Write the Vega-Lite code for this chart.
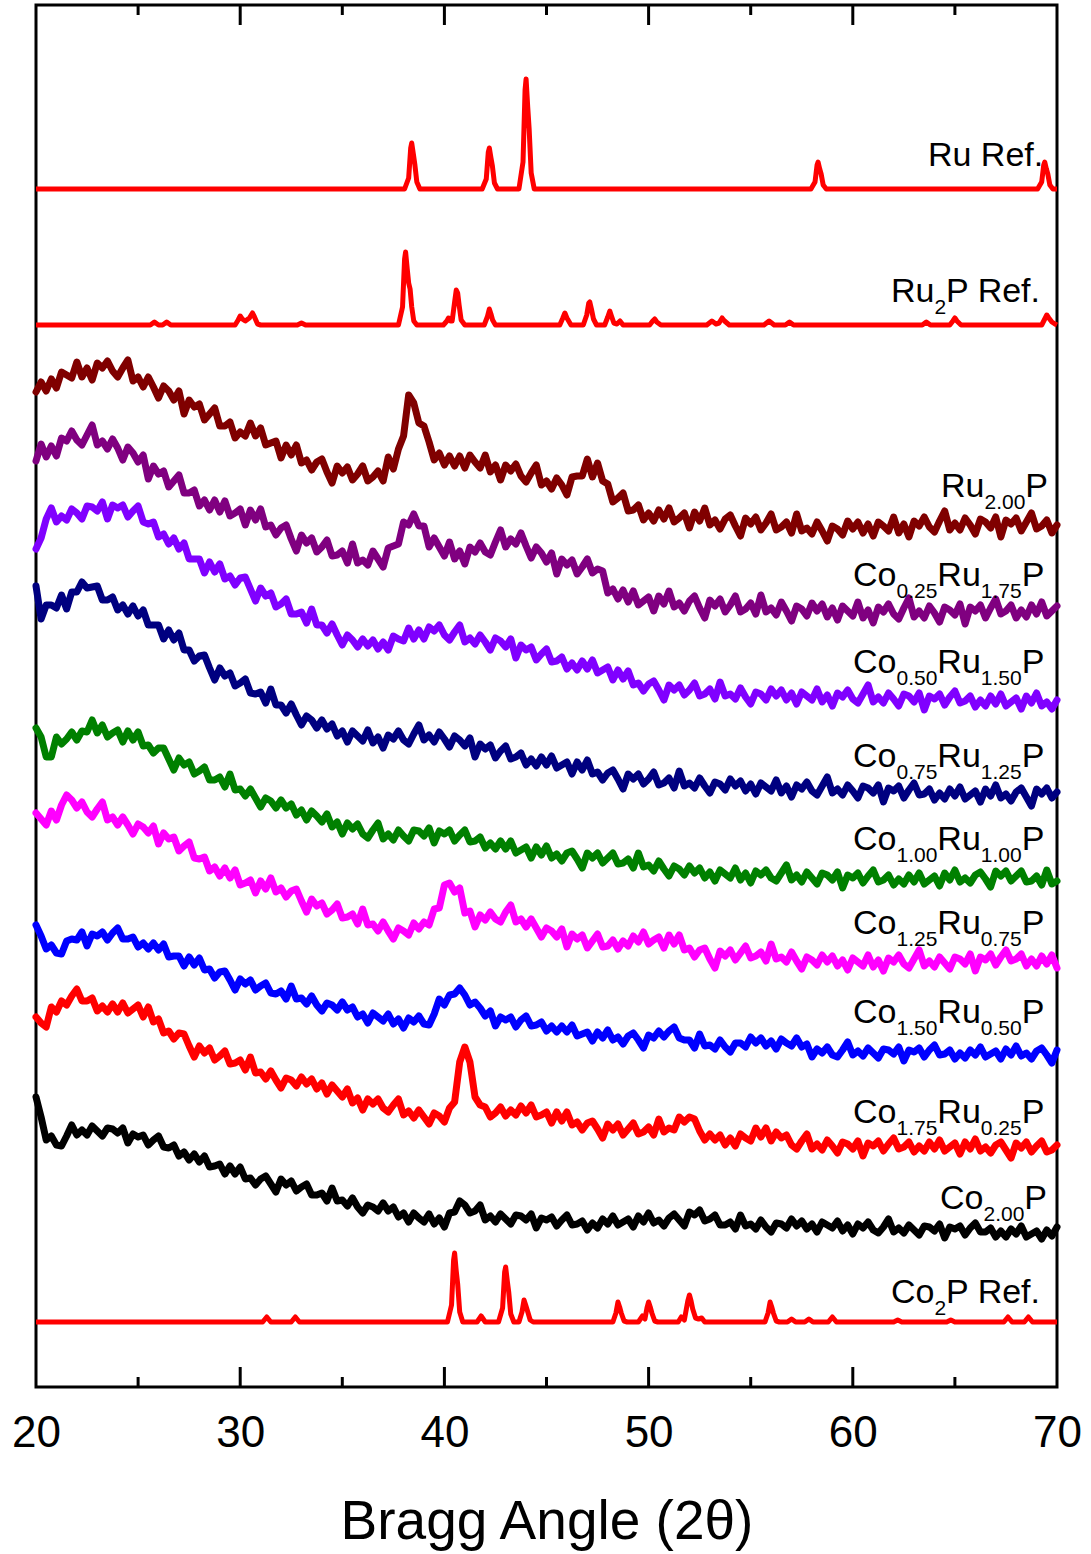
{
"$schema":"https://vega.github.io/schema/vega-lite/v6.json",
"width":1021,"height":1382,
"autosize":{"type":"none"},
"padding":{"left":36,"top":5,"right":34,"bottom":167},
"background":"white",
"config":{"view":{"stroke":"black","strokeWidth":3},"font":"Liberation Sans"},
"datasets":{
"scans":[
{"x":20,"a":995,"b":926,"c":838,"d":801,"e":659,"f":574,"g":462,"h":370,"i":290},
{"x":20.25,"a":1005,"b":943,"c":849,"d":768,"e":650,"f":568,"g":451,"h":364,"i":270},
{"x":20.5,"a":996,"b":930,"c":868,"d":782,"e":630,"f":562,"g":438,"h":360,"i":247},
{"x":20.75,"a":1008,"b":941,"c":879,"d":782,"e":630,"f":576,"g":442,"h":380,"i":251},
{"x":21,"a":999,"b":931,"c":865,"d":779,"e":650,"f":567,"g":434,"h":375,"i":242},
{"x":21.25,"a":1015,"b":949,"c":871,"d":792,"e":643,"f":582,"g":433,"h":386,"i":241},
{"x":21.5,"a":1012,"b":946,"c":867,"d":778,"e":648,"f":592,"g":446,"h":382,"i":251},
{"x":21.75,"a":1009,"b":956,"c":878,"d":795,"e":655,"f":587,"g":448,"h":391,"i":262},
{"x":22,"a":1025,"b":947,"c":874,"d":795,"e":647,"f":579,"g":447,"h":398,"i":252},
{"x":22.25,"a":1010,"b":942,"c":868,"d":805,"e":656,"f":585,"g":455,"h":386,"i":257},
{"x":22.5,"a":1019,"b":952,"c":881,"d":799,"e":655,"f":575,"g":441,"h":386,"i":252},
{"x":22.75,"a":1007,"b":962,"c":880,"d":800,"e":667,"f":570,"g":453,"h":389,"i":261},
{"x":23,"a":1024,"b":942,"c":876,"d":801,"e":654,"f":578,"g":451,"h":376,"i":256},
{"x":23.25,"a":1019,"b":946,"c":885,"d":787,"e":662,"f":585,"g":455,"h":381,"i":251},
{"x":23.5,"a":1026,"b":938,"c":868,"d":787,"e":650,"f":567,"g":447,"h":375,"i":259},
{"x":23.75,"a":1016,"b":948,"c":882,"d":790,"e":654,"f":570,"g":454,"h":383,"i":258},
{"x":24,"a":1010,"b":939,"c":879,"d":777,"e":657,"f":562,"g":459,"h":375,"i":254},
{"x":24.25,"a":1019,"b":927,"c":882,"d":782,"e":645,"f":570,"g":448,"h":384,"i":259},
{"x":24.5,"a":1027,"b":940,"c":870,"d":773,"e":656,"f":562,"g":448,"h":374,"i":244},
{"x":24.75,"a":1006,"b":934,"c":876,"d":781,"e":647,"f":553,"g":450,"h":378,"i":253},
{"x":25,"a":1010,"b":925,"c":881,"d":771,"e":655,"f":563,"g":440,"h":382,"i":250},
{"x":25.25,"a":1000,"b":932,"c":865,"d":777,"e":641,"f":560,"g":444,"h":370,"i":252},
{"x":25.5,"a":1010,"b":908,"c":863,"d":762,"e":642,"f":554,"g":438,"h":380,"i":242},
{"x":25.75,"a":1000,"b":921,"c":865,"d":762,"e":634,"f":561,"g":444,"h":365,"i":247},
{"x":26,"a":989,"b":913,"c":850,"d":762,"e":639,"f":543,"g":437,"h":368,"i":251},
{"x":26.25,"a":1001,"b":916,"c":853,"d":748,"e":639,"f":554,"g":443,"h":354,"i":240},
{"x":26.5,"a":996,"b":900,"c":843,"d":757,"e":628,"f":548,"g":430,"h":356,"i":239},
{"x":26.75,"a":987,"b":906,"c":849,"d":747,"e":617,"f":550,"g":431,"h":348,"i":242},
{"x":27,"a":996,"b":912,"c":838,"d":754,"e":629,"f":536,"g":431,"h":354,"i":231},
{"x":27.25,"a":973,"b":894,"c":844,"d":737,"e":622,"f":541,"g":421,"h":353,"i":235},
{"x":27.5,"a":987,"b":894,"c":828,"d":737,"e":625,"f":545,"g":430,"h":341,"i":227},
{"x":27.75,"a":980,"b":897,"c":828,"d":726,"e":613,"f":529,"g":422,"h":330,"i":233},
{"x":28,"a":983,"b":881,"c":828,"d":731,"e":616,"f":528,"g":429,"h":341,"i":225},
{"x":28.25,"a":967,"b":887,"c":814,"d":732,"e":620,"f":530,"g":417,"h":334,"i":231},
{"x":28.5,"a":973,"b":877,"c":825,"d":719,"e":607,"f":516,"g":418,"h":339,"i":220},
{"x":28.75,"a":979,"b":887,"c":815,"d":707,"e":607,"f":520,"g":409,"h":327,"i":221},
{"x":29,"a":961,"b":875,"c":823,"d":719,"e":610,"f":511,"g":415,"h":331,"i":223},
{"x":29.25,"a":961,"b":886,"c":808,"d":711,"e":600,"f":519,"g":416,"h":336,"i":213},
{"x":29.5,"a":965,"b":871,"c":811,"d":714,"e":613,"f":509,"g":407,"h":323,"i":221},
{"x":29.75,"a":949,"b":874,"c":802,"d":701,"e":597,"f":517,"g":397,"h":324,"i":213},
{"x":30,"a":955,"b":878,"c":809,"d":704,"e":598,"f":502,"g":408,"h":327,"i":220},
{"x":30.25,"a":951,"b":862,"c":810,"d":708,"e":591,"f":504,"g":403,"h":317,"i":208},
{"x":30.5,"a":964,"b":877,"c":798,"d":694,"e":598,"f":507,"g":407,"h":330,"i":209},
{"x":30.75,"a":951,"b":867,"c":786,"d":693,"e":589,"f":494,"g":397,"h":314,"i":202},
{"x":31,"a":959,"b":878,"c":799,"d":695,"e":580,"f":506,"g":401,"h":315,"i":208},
{"x":31.25,"a":942,"b":860,"c":791,"d":684,"e":589,"f":498,"g":404,"h":308,"i":211},
{"x":31.5,"a":944,"b":862,"c":794,"d":698,"e":586,"f":509,"g":394,"h":316,"i":203},
{"x":31.75,"a":946,"b":852,"c":780,"d":682,"e":579,"f":495,"g":393,"h":307,"i":195},
{"x":32,"a":929,"b":859,"c":783,"d":682,"e":587,"f":499,"g":396,"h":299,"i":208},
{"x":32.25,"a":942,"b":862,"c":788,"d":674,"e":579,"f":490,"g":388,"h":309,"i":202},
{"x":32.5,"a":932,"b":848,"c":773,"d":683,"e":583,"f":496,"g":401,"h":307,"i":206},
{"x":32.75,"a":942,"b":836,"c":773,"d":672,"e":572,"f":498,"g":388,"h":301,"i":196},
{"x":33,"a":924,"b":852,"c":775,"d":662,"e":577,"f":486,"g":389,"h":310,"i":200},
{"x":33.25,"a":927,"b":844,"c":764,"d":671,"e":567,"f":475,"g":383,"h":303,"i":203},
{"x":33.5,"a":917,"b":849,"c":778,"d":667,"e":576,"f":488,"g":391,"h":308,"i":192},
{"x":33.75,"a":925,"b":835,"c":762,"d":659,"e":571,"f":481,"g":382,"h":298,"i":192},
{"x":34,"a":928,"b":840,"c":762,"d":667,"e":565,"f":484,"g":376,"h":304,"i":194},
{"x":34.25,"a":915,"b":847,"c":754,"d":658,"e":573,"f":473,"g":384,"h":293,"i":186},
{"x":34.5,"a":904,"b":831,"c":763,"d":663,"e":560,"f":477,"g":382,"h":302,"i":199},
{"x":34.75,"a":921,"b":832,"c":752,"d":651,"e":565,"f":483,"g":377,"h":296,"i":186},
{"x":35,"a":914,"b":836,"c":742,"d":656,"e":553,"f":469,"g":385,"h":290,"i":187},
{"x":35.25,"a":920,"b":824,"c":752,"d":645,"e":564,"f":470,"g":377,"h":298,"i":181},
{"x":35.5,"a":907,"b":843,"c":747,"d":656,"e":558,"f":473,"g":380,"h":284,"i":189},
{"x":35.75,"a":913,"b":824,"c":740,"d":651,"e":563,"f":463,"g":370,"h":289,"i":180},
{"x":36,"a":921,"b":827,"c":748,"d":646,"e":553,"f":478,"g":373,"h":277,"i":174},
{"x":36.25,"a":906,"b":822,"c":741,"d":657,"e":549,"f":462,"g":364,"h":288,"i":182},
{"x":36.5,"a":910,"b":836,"c":747,"d":644,"e":557,"f":463,"g":374,"h":283,"i":180},
{"x":36.75,"a":916,"b":828,"c":738,"d":650,"e":564,"f":456,"g":370,"h":288,"i":176},
{"x":37,"a":906,"b":820,"c":745,"d":639,"e":548,"f":465,"g":366,"h":279,"i":184},
{"x":37.25,"a":930,"b":839,"c":737,"d":652,"e":553,"f":456,"g":373,"h":275,"i":176},
{"x":37.5,"a":918,"b":841,"c":751,"d":648,"e":547,"f":448,"g":363,"h":282,"i":180},
{"x":37.75,"a":938,"b":843,"c":748,"d":656,"e":557,"f":459,"g":368,"h":288,"i":170},
{"x":38,"a":951,"b":865,"c":746,"d":647,"e":551,"f":456,"g":359,"h":272,"i":174},
{"x":38.25,"a":992,"b":862,"c":759,"d":643,"e":546,"f":452,"g":369,"h":276,"i":165},
{"x":38.5,"a":984,"b":873,"c":748,"d":653,"e":557,"f":464,"g":365,"h":269,"i":174},
{"x":38.75,"a":964,"b":861,"c":757,"d":662,"e":556,"f":458,"g":371,"h":277,"i":169},
{"x":39,"a":961,"b":861,"c":748,"d":647,"e":551,"f":465,"g":363,"h":270,"i":165},
{"x":39.25,"a":945,"b":840,"c":760,"d":652,"e":559,"f":462,"g":362,"h":263,"i":173},
{"x":39.5,"a":927,"b":849,"c":756,"d":645,"e":544,"f":478,"g":373,"h":274,"i":163},
{"x":39.75,"a":934,"b":840,"c":762,"d":655,"e":556,"f":479,"g":388,"h":271,"i":169},
{"x":40,"a":922,"b":831,"c":752,"d":648,"e":553,"f":502,"g":382,"h":265,"i":160},
{"x":40.25,"a":931,"b":845,"c":747,"d":640,"e":557,"f":504,"g":392,"h":279,"i":174},
{"x":40.5,"a":921,"b":828,"c":755,"d":651,"e":546,"f":495,"g":393,"h":285,"i":175},
{"x":40.75,"a":931,"b":836,"c":762,"d":647,"e":552,"f":499,"g":399,"h":325,"i":186},
{"x":41,"a":919,"b":823,"c":745,"d":641,"e":557,"f":474,"g":392,"h":340,"i":182},
{"x":41.25,"a":932,"b":840,"c":749,"d":649,"e":545,"f":476,"g":382,"h":325,"i":174},
{"x":41.5,"a":925,"b":835,"c":743,"d":630,"e":546,"f":460,"g":385,"h":290,"i":176},
{"x":41.75,"a":919,"b":844,"c":752,"d":643,"e":550,"f":472,"g":379,"h":282,"i":182},
{"x":42,"a":932,"b":835,"c":745,"d":638,"e":539,"f":467,"g":371,"h":280,"i":167},
{"x":42.25,"a":915,"b":832,"c":737,"d":642,"e":544,"f":475,"g":376,"h":270,"i":171},
{"x":42.5,"a":922,"b":845,"c":749,"d":629,"e":538,"f":468,"g":361,"h":274,"i":165},
{"x":42.75,"a":907,"b":857,"c":746,"d":636,"e":546,"f":465,"g":370,"h":280,"i":173},
{"x":43,"a":922,"b":840,"c":740,"d":641,"e":538,"f":475,"g":367,"h":271,"i":168},
{"x":43.25,"a":916,"b":848,"c":748,"d":628,"e":546,"f":482,"g":370,"h":277,"i":163},
{"x":43.5,"a":923,"b":843,"c":729,"d":630,"e":534,"f":465,"g":360,"h":272,"i":172},
{"x":43.75,"a":911,"b":854,"c":742,"d":634,"e":537,"f":468,"g":367,"h":281,"i":171},
{"x":44,"a":905,"b":841,"c":737,"d":622,"e":540,"f":460,"g":371,"h":274,"i":167},
{"x":44.25,"a":914,"b":829,"c":740,"d":628,"e":529,"f":468,"g":361,"h":282,"i":173},
{"x":44.5,"a":922,"b":840,"c":727,"d":621,"e":540,"f":459,"g":362,"h":270,"i":159},
{"x":44.75,"a":902,"b":834,"c":733,"d":630,"e":532,"f":450,"g":365,"h":272,"i":169},
{"x":45,"a":906,"b":825,"c":738,"d":622,"e":541,"f":459,"g":356,"h":275,"i":167},
{"x":45.25,"a":898,"b":834,"c":725,"d":631,"e":529,"f":456,"g":361,"h":264,"i":170},
{"x":45.5,"a":909,"b":813,"c":726,"d":619,"e":533,"f":450,"g":355,"h":275,"i":161},
{"x":45.75,"a":902,"b":828,"c":730,"d":622,"e":526,"f":458,"g":361,"h":266,"i":167},
{"x":46,"a":892,"b":822,"c":718,"d":625,"e":534,"f":440,"g":355,"h":275,"i":172},
{"x":46.25,"a":910,"b":827,"c":724,"d":613,"e":536,"f":453,"g":362,"h":262,"i":162},
{"x":46.5,"a":911,"b":813,"c":717,"d":625,"e":528,"f":448,"g":351,"h":265,"i":163},
{"x":46.75,"a":911,"b":820,"c":726,"d":617,"e":519,"f":452,"g":353,"h":257,"i":166},
{"x":47,"a":928,"b":828,"c":718,"d":627,"e":534,"f":439,"g":355,"h":264,"i":157},
{"x":47.25,"a":910,"b":814,"c":727,"d":613,"e":529,"f":446,"g":346,"h":266,"i":164},
{"x":47.5,"a":924,"b":818,"c":714,"d":615,"e":534,"f":453,"g":355,"h":258,"i":159},
{"x":47.75,"a":906,"b":816,"c":717,"d":607,"e":524,"f":440,"g":349,"h":249,"i":168},
{"x":48,"a":903,"b":794,"c":720,"d":614,"e":529,"f":441,"g":357,"h":263,"i":163},
{"x":48.25,"a":885,"b":798,"c":707,"d":617,"e":534,"f":447,"g":347,"h":257,"i":171},
{"x":48.5,"a":889,"b":788,"c":717,"d":608,"e":523,"f":438,"g":350,"h":263,"i":162},
{"x":48.75,"a":894,"b":797,"c":708,"d":598,"e":524,"f":446,"g":343,"h":252,"i":165},
{"x":49,"a":876,"b":785,"c":716,"d":613,"e":528,"f":441,"g":351,"h":258,"i":168},
{"x":49.25,"a":877,"b":796,"c":702,"d":608,"e":519,"f":451,"g":354,"h":264,"i":160},
{"x":49.5,"a":882,"b":782,"c":704,"d":613,"e":534,"f":445,"g":347,"h":253,"i":171},
{"x":49.75,"a":867,"b":786,"c":696,"d":603,"e":520,"f":455,"g":339,"h":255,"i":165},
{"x":50,"a":874,"b":790,"c":703,"d":608,"e":522,"f":443,"g":352,"h":260,"i":174},
{"x":50.25,"a":866,"b":776,"c":706,"d":615,"e":516,"f":447,"g":349,"h":252,"i":164},
{"x":50.5,"a":877,"b":791,"c":697,"d":602,"e":526,"f":450,"g":356,"h":268,"i":167},
{"x":50.75,"a":868,"b":783,"c":687,"d":604,"e":518,"f":439,"g":350,"h":255,"i":161},
{"x":51,"a":879,"b":796,"c":702,"d":609,"e":511,"f":452,"g":356,"h":259,"i":169},
{"x":51.25,"a":865,"b":780,"c":697,"d":599,"e":521,"f":443,"g":360,"h":257,"i":173},
{"x":51.5,"a":869,"b":784,"c":702,"d":616,"e":518,"f":452,"g":349,"h":270,"i":167},
{"x":51.75,"a":874,"b":776,"c":692,"d":601,"e":512,"f":437,"g":347,"h":265,"i":161},
{"x":52,"a":859,"b":786,"c":697,"d":604,"e":521,"f":439,"g":347,"h":270,"i":175},
{"x":52.25,"a":875,"b":791,"c":704,"d":599,"e":514,"f":430,"g":339,"h":268,"i":172},
{"x":52.5,"a":866,"b":779,"c":691,"d":609,"e":519,"f":437,"g":353,"h":256,"i":177},
{"x":52.75,"a":879,"b":769,"c":693,"d":601,"e":509,"f":439,"g":341,"h":247,"i":166},
{"x":53,"a":862,"b":787,"c":698,"d":594,"e":515,"f":428,"g":342,"h":253,"i":168},
{"x":53.25,"a":867,"b":781,"c":688,"d":605,"e":506,"f":419,"g":338,"h":247,"i":172},
{"x":53.5,"a":858,"b":788,"c":705,"d":603,"e":517,"f":436,"g":347,"h":252,"i":162},
{"x":53.75,"a":868,"b":775,"c":691,"d":597,"e":513,"f":431,"g":340,"h":242,"i":162},
{"x":54,"a":872,"b":782,"c":693,"d":608,"e":509,"f":437,"g":335,"h":249,"i":165},
{"x":54.25,"a":861,"b":791,"c":688,"d":601,"e":519,"f":427,"g":344,"h":241,"i":158},
{"x":54.5,"a":851,"b":775,"c":699,"d":606,"e":507,"f":434,"g":344,"h":253,"i":172},
{"x":54.75,"a":869,"b":778,"c":690,"d":596,"e":514,"f":441,"g":340,"h":249,"i":161},
{"x":55,"a":863,"b":784,"c":683,"d":603,"e":504,"f":429,"g":350,"h":246,"i":163},
{"x":55.25,"a":870,"b":773,"c":695,"d":593,"e":516,"f":431,"g":344,"h":259,"i":158},
{"x":55.5,"a":857,"b":792,"c":693,"d":604,"e":512,"f":435,"g":349,"h":250,"i":167},
{"x":55.75,"a":864,"b":775,"c":687,"d":600,"e":517,"f":426,"g":341,"h":259,"i":160},
{"x":56,"a":873,"b":779,"c":698,"d":596,"e":509,"f":443,"g":346,"h":246,"i":155},
{"x":56.25,"a":857,"b":772,"c":691,"d":607,"e":506,"f":428,"g":338,"h":255,"i":164},
{"x":56.5,"a":860,"b":785,"c":697,"d":594,"e":514,"f":430,"g":348,"h":249,"i":163},
{"x":56.75,"a":865,"b":776,"c":687,"d":601,"e":522,"f":425,"g":344,"h":252,"i":159},
{"x":57,"a":854,"b":766,"c":694,"d":590,"e":507,"f":435,"g":341,"h":242,"i":168},
{"x":57.25,"a":873,"b":781,"c":683,"d":602,"e":512,"f":426,"g":349,"h":238,"i":161},
{"x":57.5,"a":856,"b":778,"c":695,"d":598,"e":505,"f":418,"g":340,"h":246,"i":166},
{"x":57.75,"a":859,"b":771,"c":691,"d":605,"e":515,"f":430,"g":343,"h":253,"i":158},
{"x":58,"a":853,"b":784,"c":687,"d":596,"e":509,"f":427,"g":330,"h":238,"i":163},
{"x":58.25,"a":865,"b":776,"c":698,"d":592,"e":503,"f":422,"g":338,"h":243,"i":155},
{"x":58.5,"a":856,"b":783,"c":685,"d":601,"e":514,"f":432,"g":334,"h":237,"i":165},
{"x":58.75,"a":846,"b":770,"c":692,"d":610,"e":512,"f":425,"g":340,"h":247,"i":162},
{"x":59,"a":861,"b":779,"c":681,"d":594,"e":507,"f":431,"g":332,"h":241,"i":159},
{"x":59.25,"a":858,"b":767,"c":694,"d":598,"e":515,"f":421,"g":330,"h":234,"i":166},
{"x":59.5,"a":852,"b":781,"c":690,"d":592,"e":499,"f":427,"g":337,"h":245,"i":156},
{"x":59.75,"a":866,"b":776,"c":697,"d":602,"e":512,"f":417,"g":345,"h":243,"i":162},
{"x":60,"a":858,"b":771,"c":688,"d":596,"e":509,"f":429,"g":332,"h":238,"i":153},
{"x":60.25,"a":865,"b":785,"c":684,"d":589,"e":514,"f":425,"g":336,"h":246,"i":163},
{"x":60.5,"a":854,"b":769,"c":693,"d":601,"e":504,"f":421,"g":331,"h":231,"i":159},
{"x":60.75,"a":863,"b":777,"c":702,"d":599,"e":511,"f":432,"g":339,"h":244,"i":165},
{"x":61,"a":851,"b":764,"c":685,"d":594,"e":517,"f":420,"g":334,"h":241,"i":157},
{"x":61.25,"a":865,"b":780,"c":690,"d":602,"e":505,"f":427,"g":329,"h":246,"i":154},
{"x":61.5,"a":861,"b":775,"c":684,"d":585,"e":507,"f":416,"g":338,"h":236,"i":160},
{"x":61.75,"a":856,"b":783,"c":694,"d":599,"e":512,"f":429,"g":337,"h":243,"i":168},
{"x":62,"a":870,"b":773,"c":688,"d":596,"e":502,"f":425,"g":333,"h":249,"i":155},
{"x":62.25,"a":854,"b":768,"c":681,"d":601,"e":508,"f":432,"g":340,"h":238,"i":159},
{"x":62.5,"a":863,"b":779,"c":693,"d":589,"e":503,"f":423,"g":326,"h":240,"i":154},
{"x":62.75,"a":850,"b":789,"c":691,"d":597,"e":512,"f":419,"g":337,"h":245,"i":162},
{"x":63,"a":866,"b":770,"c":685,"d":604,"e":505,"f":428,"g":335,"h":235,"i":157},
{"x":63.25,"a":861,"b":776,"c":694,"d":592,"e":514,"f":437,"g":339,"h":241,"i":152},
{"x":63.5,"a":870,"b":769,"c":677,"d":593,"e":503,"f":421,"g":330,"h":236,"i":161},
{"x":63.75,"a":860,"b":781,"c":691,"d":598,"e":507,"f":426,"g":337,"h":245,"i":160},
{"x":64,"a":855,"b":774,"c":688,"d":587,"e":511,"f":420,"g":342,"h":238,"i":156},
{"x":64.25,"a":866,"b":765,"c":693,"d":594,"e":501,"f":430,"g":332,"h":247,"i":163},
{"x":64.5,"a":876,"b":780,"c":682,"d":588,"e":514,"f":424,"g":333,"h":236,"i":149},
{"x":64.75,"a":857,"b":777,"c":690,"d":598,"e":507,"f":418,"g":337,"h":240,"i":160},
{"x":65,"a":864,"b":772,"c":696,"d":591,"e":517,"f":430,"g":328,"h":244,"i":158},
{"x":65.25,"a":857,"b":783,"c":684,"d":600,"e":505,"f":428,"g":334,"h":233,"i":161},
{"x":65.5,"a":869,"b":763,"c":686,"d":588,"e":509,"f":423,"g":329,"h":245,"i":152},
{"x":65.75,"a":862,"b":780,"c":691,"d":592,"e":504,"f":433,"g":337,"h":238,"i":159},
{"x":66,"a":853,"b":776,"c":680,"d":596,"e":512,"f":416,"g":332,"h":248,"i":164},
{"x":66.25,"a":868,"b":782,"c":687,"d":585,"e":515,"f":430,"g":340,"h":236,"i":155},
{"x":66.5,"a":865,"b":769,"c":681,"d":598,"e":508,"f":427,"g":330,"h":240,"i":155},
{"x":66.75,"a":859,"b":779,"c":691,"d":591,"e":500,"f":433,"g":333,"h":234,"i":159},
{"x":67,"a":870,"b":788,"c":683,"d":602,"e":516,"f":422,"g":336,"h":242,"i":150},
{"x":67.25,"a":850,"b":773,"c":693,"d":589,"e":511,"f":430,"g":328,"h":245,"i":156},
{"x":67.5,"a":867,"b":776,"c":681,"d":593,"e":516,"f":437,"g":338,"h":237,"i":150},
{"x":67.75,"a":863,"b":782,"c":685,"d":586,"e":506,"f":426,"g":332,"h":229,"i":158},
{"x":68,"a":869,"b":769,"c":689,"d":595,"e":511,"f":428,"g":341,"h":244,"i":153},
{"x":68.25,"a":856,"b":777,"c":678,"d":599,"e":516,"f":433,"g":331,"h":239,"i":161},
{"x":68.5,"a":865,"b":770,"c":691,"d":590,"e":505,"f":421,"g":334,"h":245,"i":150},
{"x":68.75,"a":874,"b":782,"c":684,"d":581,"e":506,"f":428,"g":328,"h":235,"i":153},
{"x":69,"a":858,"b":773,"c":694,"d":598,"e":511,"f":421,"g":336,"h":241,"i":156},
{"x":69.25,"a":861,"b":785,"c":681,"d":593,"e":502,"f":431,"g":339,"h":246,"i":148},
{"x":69.5,"a":867,"b":771,"c":685,"d":599,"e":517,"f":423,"g":332,"h":235,"i":157},
{"x":69.75,"a":854,"b":776,"c":678,"d":589,"e":503,"f":432,"g":324,"h":237,"i":151},
{"x":70,"a":862,"b":781,"c":687,"d":595,"e":506,"f":419,"g":337,"h":242,"i":160}
],
"refs":[
{"r":"Ru","x":20,"v":1198},{"r":"Ru","x":38.05,"v":1198},{"r":"Ru","x":38.25,"v":1209},{"r":"Ru","x":38.35,"v":1239},{"r":"Ru","x":38.4,"v":1244},{"r":"Ru","x":38.48,"v":1233},{"r":"Ru","x":38.55,"v":1223},{"r":"Ru","x":38.65,"v":1205},{"r":"Ru","x":38.8,"v":1198},
{"r":"Ru","x":41.85,"v":1198},{"r":"Ru","x":42.05,"v":1208},{"r":"Ru","x":42.15,"v":1235},{"r":"Ru","x":42.2,"v":1239},{"r":"Ru","x":42.28,"v":1229},{"r":"Ru","x":42.35,"v":1221},{"r":"Ru","x":42.45,"v":1204},{"r":"Ru","x":42.6,"v":1198},
{"r":"Ru","x":43.65,"v":1198},{"r":"Ru","x":43.85,"v":1225},{"r":"Ru","x":43.95,"v":1297},{"r":"Ru","x":44.0,"v":1308},{"r":"Ru","x":44.08,"v":1280},{"r":"Ru","x":44.15,"v":1258},{"r":"Ru","x":44.25,"v":1214},{"r":"Ru","x":44.4,"v":1198},
{"r":"Ru","x":57.95,"v":1198},{"r":"Ru","x":58.15,"v":1205},{"r":"Ru","x":58.25,"v":1222},{"r":"Ru","x":58.3,"v":1225},{"r":"Ru","x":58.38,"v":1218},{"r":"Ru","x":58.45,"v":1213},{"r":"Ru","x":58.55,"v":1202},{"r":"Ru","x":58.7,"v":1198},
{"r":"Ru","x":69.05,"v":1198},{"r":"Ru","x":69.25,"v":1205},{"r":"Ru","x":69.35,"v":1222},{"r":"Ru","x":69.4,"v":1225},{"r":"Ru","x":69.48,"v":1218},{"r":"Ru","x":69.55,"v":1213},{"r":"Ru","x":69.65,"v":1202},{"r":"Ru","x":69.8,"v":1198},{"r":"Ru","x":70,"v":1198},
{"r":"Ru2P","x":20,"v":1062},{"r":"Ru2P","x":25.6,"v":1062},{"r":"Ru2P","x":25.8,"v":1065},{"r":"Ru2P","x":26.0,"v":1062},{"r":"Ru2P","x":26.2,"v":1062},{"r":"Ru2P","x":26.4,"v":1065},{"r":"Ru2P","x":26.6,"v":1062},
{"r":"Ru2P","x":29.75,"v":1062},{"r":"Ru2P","x":29.9,"v":1067},{"r":"Ru2P","x":30.0,"v":1071},{"r":"Ru2P","x":30.1,"v":1068},{"r":"Ru2P","x":30.25,"v":1066},{"r":"Ru2P","x":30.45,"v":1069},{"r":"Ru2P","x":30.6,"v":1074},{"r":"Ru2P","x":30.7,"v":1070},{"r":"Ru2P","x":30.85,"v":1063},{"r":"Ru2P","x":31.0,"v":1062},
{"r":"Ru2P","x":32.8,"v":1062},{"r":"Ru2P","x":33.0,"v":1064},{"r":"Ru2P","x":33.2,"v":1062},
{"r":"Ru2P","x":37.75,"v":1062},{"r":"Ru2P","x":37.95,"v":1080},{"r":"Ru2P","x":38.05,"v":1128},{"r":"Ru2P","x":38.1,"v":1135},{"r":"Ru2P","x":38.18,"v":1118},{"r":"Ru2P","x":38.25,"v":1104},{"r":"Ru2P","x":38.32,"v":1098},{"r":"Ru2P","x":38.4,"v":1080},{"r":"Ru2P","x":38.5,"v":1066},{"r":"Ru2P","x":38.65,"v":1062},
{"r":"Ru2P","x":39.95,"v":1062},{"r":"Ru2P","x":40.12,"v":1066},{"r":"Ru2P","x":40.2,"v":1069},{"r":"Ru2P","x":40.3,"v":1066},{"r":"Ru2P","x":40.38,"v":1066},{"r":"Ru2P","x":40.5,"v":1085},{"r":"Ru2P","x":40.58,"v":1097},{"r":"Ru2P","x":40.65,"v":1094},{"r":"Ru2P","x":40.72,"v":1082},{"r":"Ru2P","x":40.82,"v":1067},{"r":"Ru2P","x":41.0,"v":1062},
{"r":"Ru2P","x":41.95,"v":1062},{"r":"Ru2P","x":42.1,"v":1070},{"r":"Ru2P","x":42.2,"v":1078},{"r":"Ru2P","x":42.28,"v":1073},{"r":"Ru2P","x":42.36,"v":1067},{"r":"Ru2P","x":42.5,"v":1062},
{"r":"Ru2P","x":45.65,"v":1062},{"r":"Ru2P","x":45.8,"v":1069},{"r":"Ru2P","x":45.9,"v":1074},{"r":"Ru2P","x":46.0,"v":1069},{"r":"Ru2P","x":46.2,"v":1062},
{"r":"Ru2P","x":46.8,"v":1062},{"r":"Ru2P","x":46.97,"v":1072},{"r":"Ru2P","x":47.07,"v":1084},{"r":"Ru2P","x":47.12,"v":1085},{"r":"Ru2P","x":47.2,"v":1078},{"r":"Ru2P","x":47.3,"v":1068},{"r":"Ru2P","x":47.45,"v":1062},
{"r":"Ru2P","x":47.85,"v":1062},{"r":"Ru2P","x":48.0,"v":1070},{"r":"Ru2P","x":48.1,"v":1076},{"r":"Ru2P","x":48.18,"v":1071},{"r":"Ru2P","x":48.3,"v":1064},{"r":"Ru2P","x":48.45,"v":1063},{"r":"Ru2P","x":48.6,"v":1066},{"r":"Ru2P","x":48.75,"v":1062},
{"r":"Ru2P","x":50.05,"v":1062},{"r":"Ru2P","x":50.2,"v":1066},{"r":"Ru2P","x":50.3,"v":1068},{"r":"Ru2P","x":50.4,"v":1065},{"r":"Ru2P","x":50.6,"v":1062},
{"r":"Ru2P","x":52.85,"v":1062},{"r":"Ru2P","x":53.1,"v":1066},{"r":"Ru2P","x":53.3,"v":1063},{"r":"Ru2P","x":53.45,"v":1064},{"r":"Ru2P","x":53.6,"v":1069},{"r":"Ru2P","x":53.72,"v":1066},{"r":"Ru2P","x":53.95,"v":1062},
{"r":"Ru2P","x":55.65,"v":1062},{"r":"Ru2P","x":55.9,"v":1066},{"r":"Ru2P","x":56.15,"v":1062},
{"r":"Ru2P","x":56.7,"v":1062},{"r":"Ru2P","x":56.9,"v":1065},{"r":"Ru2P","x":57.1,"v":1062},
{"r":"Ru2P","x":63.4,"v":1062},{"r":"Ru2P","x":63.6,"v":1065},{"r":"Ru2P","x":63.8,"v":1062},
{"r":"Ru2P","x":64.75,"v":1062},{"r":"Ru2P","x":64.9,"v":1066},{"r":"Ru2P","x":65.0,"v":1069},{"r":"Ru2P","x":65.1,"v":1066},{"r":"Ru2P","x":65.3,"v":1062},
{"r":"Ru2P","x":69.25,"v":1062},{"r":"Ru2P","x":69.4,"v":1068},{"r":"Ru2P","x":69.5,"v":1072},{"r":"Ru2P","x":69.6,"v":1069},{"r":"Ru2P","x":69.75,"v":1065},{"r":"Ru2P","x":69.9,"v":1063},{"r":"Ru2P","x":70,"v":1062},
{"r":"Co2P","x":20,"v":65},{"r":"Co2P","x":31.1,"v":65},{"r":"Co2P","x":31.3,"v":70},{"r":"Co2P","x":31.5,"v":65},{"r":"Co2P","x":32.5,"v":65},{"r":"Co2P","x":32.7,"v":70},{"r":"Co2P","x":32.9,"v":65},
{"r":"Co2P","x":40.15,"v":65},{"r":"Co2P","x":40.35,"v":82},{"r":"Co2P","x":40.45,"v":127},{"r":"Co2P","x":40.5,"v":134},{"r":"Co2P","x":40.58,"v":116},{"r":"Co2P","x":40.65,"v":103},{"r":"Co2P","x":40.75,"v":75},{"r":"Co2P","x":40.9,"v":65},
{"r":"Co2P","x":41.6,"v":65},{"r":"Co2P","x":41.8,"v":71},{"r":"Co2P","x":42.0,"v":65},
{"r":"Co2P","x":42.65,"v":65},{"r":"Co2P","x":42.85,"v":79},{"r":"Co2P","x":42.95,"v":115},{"r":"Co2P","x":43.0,"v":120},{"r":"Co2P","x":43.08,"v":106},{"r":"Co2P","x":43.15,"v":95},{"r":"Co2P","x":43.25,"v":73},{"r":"Co2P","x":43.4,"v":65},
{"r":"Co2P","x":43.65,"v":65},{"r":"Co2P","x":43.8,"v":75},{"r":"Co2P","x":43.9,"v":87},{"r":"Co2P","x":43.98,"v":82},{"r":"Co2P","x":44.07,"v":76},{"r":"Co2P","x":44.2,"v":67},{"r":"Co2P","x":44.35,"v":65},
{"r":"Co2P","x":48.25,"v":65},{"r":"Co2P","x":48.4,"v":74},{"r":"Co2P","x":48.5,"v":85},{"r":"Co2P","x":48.58,"v":80},{"r":"Co2P","x":48.66,"v":74},{"r":"Co2P","x":48.8,"v":66},{"r":"Co2P","x":48.95,"v":65},
{"r":"Co2P","x":49.5,"v":65},{"r":"Co2P","x":49.7,"v":71},{"r":"Co2P","x":49.82,"v":68},{"r":"Co2P","x":49.92,"v":79},{"r":"Co2P","x":50.0,"v":85},{"r":"Co2P","x":50.08,"v":80},{"r":"Co2P","x":50.16,"v":74},{"r":"Co2P","x":50.3,"v":66},{"r":"Co2P","x":50.45,"v":65},
{"r":"Co2P","x":51.45,"v":65},{"r":"Co2P","x":51.6,"v":70},{"r":"Co2P","x":51.75,"v":67},{"r":"Co2P","x":51.92,"v":86},{"r":"Co2P","x":52.0,"v":92},{"r":"Co2P","x":52.08,"v":86},{"r":"Co2P","x":52.16,"v":78},{"r":"Co2P","x":52.3,"v":69},{"r":"Co2P","x":52.45,"v":68},{"r":"Co2P","x":52.6,"v":69},{"r":"Co2P","x":52.75,"v":65},
{"r":"Co2P","x":55.7,"v":65},{"r":"Co2P","x":55.85,"v":74},{"r":"Co2P","x":55.95,"v":85},{"r":"Co2P","x":56.03,"v":80},{"r":"Co2P","x":56.11,"v":74},{"r":"Co2P","x":56.25,"v":66},{"r":"Co2P","x":56.4,"v":65},
{"r":"Co2P","x":56.8,"v":65},{"r":"Co2P","x":57.0,"v":68},{"r":"Co2P","x":57.2,"v":65},{"r":"Co2P","x":57.65,"v":65},{"r":"Co2P","x":57.85,"v":68},{"r":"Co2P","x":58.05,"v":65},
{"r":"Co2P","x":58.8,"v":65},{"r":"Co2P","x":59.0,"v":70},{"r":"Co2P","x":59.2,"v":65},{"r":"Co2P","x":62.0,"v":65},{"r":"Co2P","x":62.2,"v":67},{"r":"Co2P","x":62.4,"v":65},
{"r":"Co2P","x":64.6,"v":65},{"r":"Co2P","x":64.8,"v":67},{"r":"Co2P","x":65.0,"v":65},{"r":"Co2P","x":67.4,"v":65},{"r":"Co2P","x":67.6,"v":70},{"r":"Co2P","x":67.8,"v":65},
{"r":"Co2P","x":68.4,"v":65},{"r":"Co2P","x":68.6,"v":70},{"r":"Co2P","x":68.8,"v":65},{"r":"Co2P","x":70,"v":65}
],
"labels":[
{"t":"Ru Ref.","x":63.68,"v":1221},
{"t":"Ru","x":61.87,"v":1085},{"t":"P Ref.","x":64.57,"v":1085},
{"t":"Ru","x":64.32,"v":890},{"t":"P","x":68.45,"v":890},
{"t":"Co","x":60.01,"v":801},{"t":"Ru","x":64.14,"v":801},{"t":"P","x":68.27,"v":801},
{"t":"Co","x":60.01,"v":714},{"t":"Ru","x":64.14,"v":714},{"t":"P","x":68.27,"v":714},
{"t":"Co","x":60.01,"v":620},{"t":"Ru","x":64.14,"v":620},{"t":"P","x":68.27,"v":620},
{"t":"Co","x":60.01,"v":537},{"t":"Ru","x":64.14,"v":537},{"t":"P","x":68.27,"v":537},
{"t":"Co","x":60.01,"v":453},{"t":"Ru","x":64.14,"v":453},{"t":"P","x":68.27,"v":453},
{"t":"Co","x":60.01,"v":364},{"t":"Ru","x":64.14,"v":364},{"t":"P","x":68.27,"v":364},
{"t":"Co","x":60.01,"v":264},{"t":"Ru","x":64.14,"v":264},{"t":"P","x":68.27,"v":264},
{"t":"Co","x":64.27,"v":178},{"t":"P","x":68.4,"v":178},
{"t":"Co","x":61.87,"v":84},{"t":"P Ref.","x":64.57,"v":84}
],
"subs":[
{"t":"2","x":64.0,"v":1073},
{"t":"2.00","x":66.45,"v":878},
{"t":"0.25","x":62.14,"v":789},{"t":"1.75","x":66.27,"v":789},
{"t":"0.50","x":62.14,"v":702},{"t":"1.50","x":66.27,"v":702},
{"t":"0.75","x":62.14,"v":608},{"t":"1.25","x":66.27,"v":608},
{"t":"1.00","x":62.14,"v":525},{"t":"1.00","x":66.27,"v":525},
{"t":"1.25","x":62.14,"v":441},{"t":"0.75","x":66.27,"v":441},
{"t":"1.50","x":62.14,"v":352},{"t":"0.50","x":66.27,"v":352},
{"t":"1.75","x":62.14,"v":252},{"t":"0.25","x":66.27,"v":252},
{"t":"2.00","x":66.4,"v":166},
{"t":"2","x":64.0,"v":72}
],
"ticks":[
{"x":30,"v":0,"w":20},{"x":40,"v":0,"w":20},{"x":50,"v":0,"w":20},{"x":60,"v":0,"w":20},
{"x":30,"v":1362,"w":1382},{"x":40,"v":1362,"w":1382},{"x":50,"v":1362,"w":1382},{"x":60,"v":1362,"w":1382},
{"x":25,"v":0,"w":10},{"x":35,"v":0,"w":10},{"x":45,"v":0,"w":10},{"x":55,"v":0,"w":10},{"x":65,"v":0,"w":10},
{"x":25,"v":1372,"w":1382},{"x":35,"v":1372,"w":1382},{"x":45,"v":1372,"w":1382},{"x":55,"v":1372,"w":1382},{"x":65,"v":1372,"w":1382}
]
},
"encoding":{
"x":{"field":"x","type":"quantitative","scale":{"domain":[20,70],"nice":false,"zero":false},
"axis":{"title":"Bragg Angle (2θ)","values":[20,30,40,50,60,70],"grid":false,"domain":false,"ticks":false,"labelFlush":false,"labelFontSize":44,"labelFont":"Liberation Sans","labelColor":"black","labelPadding":24,"labelOverlap":false,"titleFont":"Liberation Sans","titleFontSize":55,"titleFontWeight":"normal","titleColor":"black","titleY":151,"titleBaseline":"alphabetic"}},
"y":{"field":"v","type":"quantitative","scale":{"domain":[0,1382],"nice":false,"zero":false},"axis":null}
},
"layer":[
{"data":{"name":"refs"},"mark":{"type":"line","color":"#ff0000","strokeWidth":5,"strokeJoin":"round"},"encoding":{"detail":{"field":"r","type":"nominal"}}},
{"data":{"name":"scans"},"transform":[{"fold":["a","b","c","d","e","f","g","h","i"],"as":["sample","v"]}],
"mark":{"type":"line","strokeWidth":7,"strokeJoin":"round","strokeCap":"round"},
"encoding":{"color":{"field":"sample","type":"nominal","legend":null,"scale":{"domain":["a","b","c","d","e","f","g","h","i"],"range":["#800000","#800080","#8000ff","#000080","#008000","#ff00ff","#0000ff","#ff0000","#000000"]}}}},
{"data":{"name":"labels"},"mark":{"type":"text","align":"left","baseline":"alphabetic","fontSize":34,"font":"Liberation Sans","color":"black"},"encoding":{"text":{"field":"t","type":"nominal"}}},
{"data":{"name":"subs"},"mark":{"type":"text","align":"left","baseline":"alphabetic","fontSize":21,"font":"Liberation Sans","color":"black"},"encoding":{"text":{"field":"t","type":"nominal"}}},
{"data":{"name":"ticks"},"mark":{"type":"rule","color":"black","strokeWidth":3},"encoding":{"y2":{"field":"w"}}}
]
}
